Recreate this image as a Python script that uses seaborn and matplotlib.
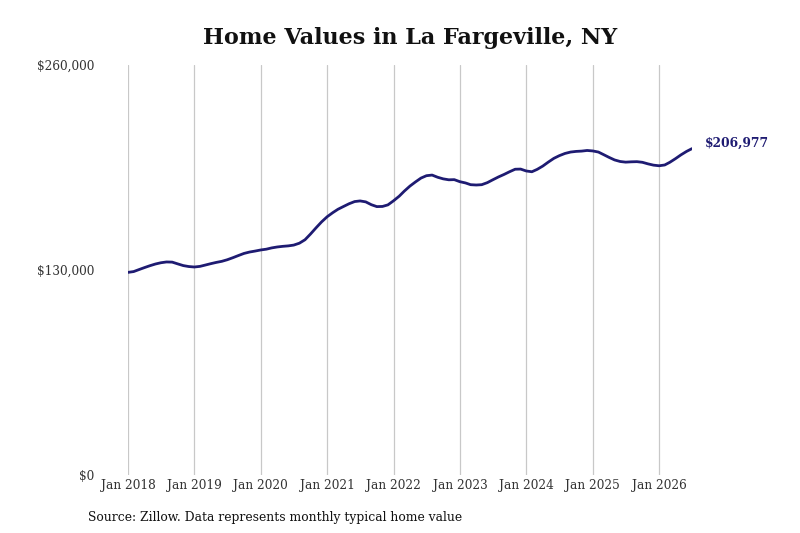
import matplotlib
matplotlib.use("Agg")
import matplotlib.pyplot as plt
import seaborn as sns
import pandas as pd
import numpy as np

# Monthly typical home values (thousands of $), Jan 2018 - Jul 2026
v2018 = [128.5, 129.0, 130.2, 131.5, 132.7, 133.8, 134.6, 135.1, 135.0, 133.9, 132.8, 132.2]
v2019 = [131.9, 132.3, 133.1, 134.0, 134.8, 135.5, 136.5, 137.8, 139.2, 140.5, 141.4, 142.0]
v2020 = [142.7, 143.2, 144.0, 144.6, 145.0, 145.3, 145.8, 147.0, 149.2, 152.8, 156.8, 160.5]
v2021 = [163.8, 166.4, 168.5, 170.3, 172.0, 173.4, 173.8, 173.2, 171.4, 170.2, 170.3, 171.3]
v2022 = [173.9, 176.8, 180.0, 183.2, 185.8, 188.3, 189.8, 190.2, 188.8, 187.8, 187.2, 187.3]
v2023 = [186.0, 185.2, 184.1, 183.9, 184.1, 185.4, 187.2, 189.0, 190.6, 192.3, 193.9, 194.0]
v2024 = [192.8, 192.3, 193.8, 195.9, 198.4, 200.8, 202.5, 203.9, 204.8, 205.2, 205.4, 205.8]
v2025 = [205.5, 204.8, 203.2, 201.4, 199.8, 198.8, 198.4, 198.6, 198.7, 198.3, 197.3, 196.5]
v2026 = [196.1, 196.6, 198.3, 200.6, 203.0, 205.2, 206.977]

values = [v * 1000 for v in (v2018 + v2019 + v2020 + v2021 + v2022 + v2023 + v2024 + v2025 + v2026)]
dates = pd.date_range("2018-01-01", periods=len(values), freq="MS")
df = pd.DataFrame({"date": dates, "value": values})

tick_years = list(range(2018, 2027))
tick_labels = [f"Jan {y}" for y in tick_years]
y_ticks = [0, 130000, 260000]
y_tick_labels = ["$0", "$130,000", "$260,000"]
end_label = "$206,977"

sns.set_theme(style="white")
plt.rcParams["font.family"] = ["DejaVu Serif"]

fig = plt.figure(figsize=(8, 5.33), dpi=100)
ax = fig.add_axes([128 / 800, 58 / 533, (692 - 128) / 800, 410 / 533])

line_color = "#1e1b72"
sns.lineplot(data=df, x="date", y="value", ax=ax, color=line_color, linewidth=2.0)

ax.set_xlim(dates[0], dates[-1])
ax.set_ylim(0, 260000)
tick_dates = [pd.Timestamp(f"{y}-01-01") for y in tick_years]
ax.set_xticks(tick_dates)
ax.set_xticklabels(tick_labels, fontsize=8.7, color="#333333")
ax.set_yticks(y_ticks)
ax.set_yticklabels(y_tick_labels, fontsize=8.7, color="#333333")
ax.tick_params(axis="y", length=0, pad=24)
ax.tick_params(axis="x", length=0, pad=3)
ax.xaxis.grid(True, color="#c8c8c8", linewidth=0.9)
ax.yaxis.grid(False)
for s in ax.spines.values():
    s.set_visible(False)
ax.set_xlabel("")
ax.set_ylabel("")

ax.annotate(end_label, xy=(dates[-1], values[-1]), xytext=(9.5, 3.5), textcoords="offset points",
            fontsize=8.8, fontweight="bold", color=line_color, va="center", ha="left",
            annotation_clip=False)

fig.text(0.513, 0.928, "Home Values in La Fargeville, NY", ha="center", va="center",
         fontsize=16, fontweight="bold", color="#111111")
fig.text(88 / 800, 1 - 517 / 533, "Source: Zillow. Data represents monthly typical home value",
         ha="left", va="center", fontsize=8.9, color="#111111")

fig.savefig("out.png", dpi=100)
